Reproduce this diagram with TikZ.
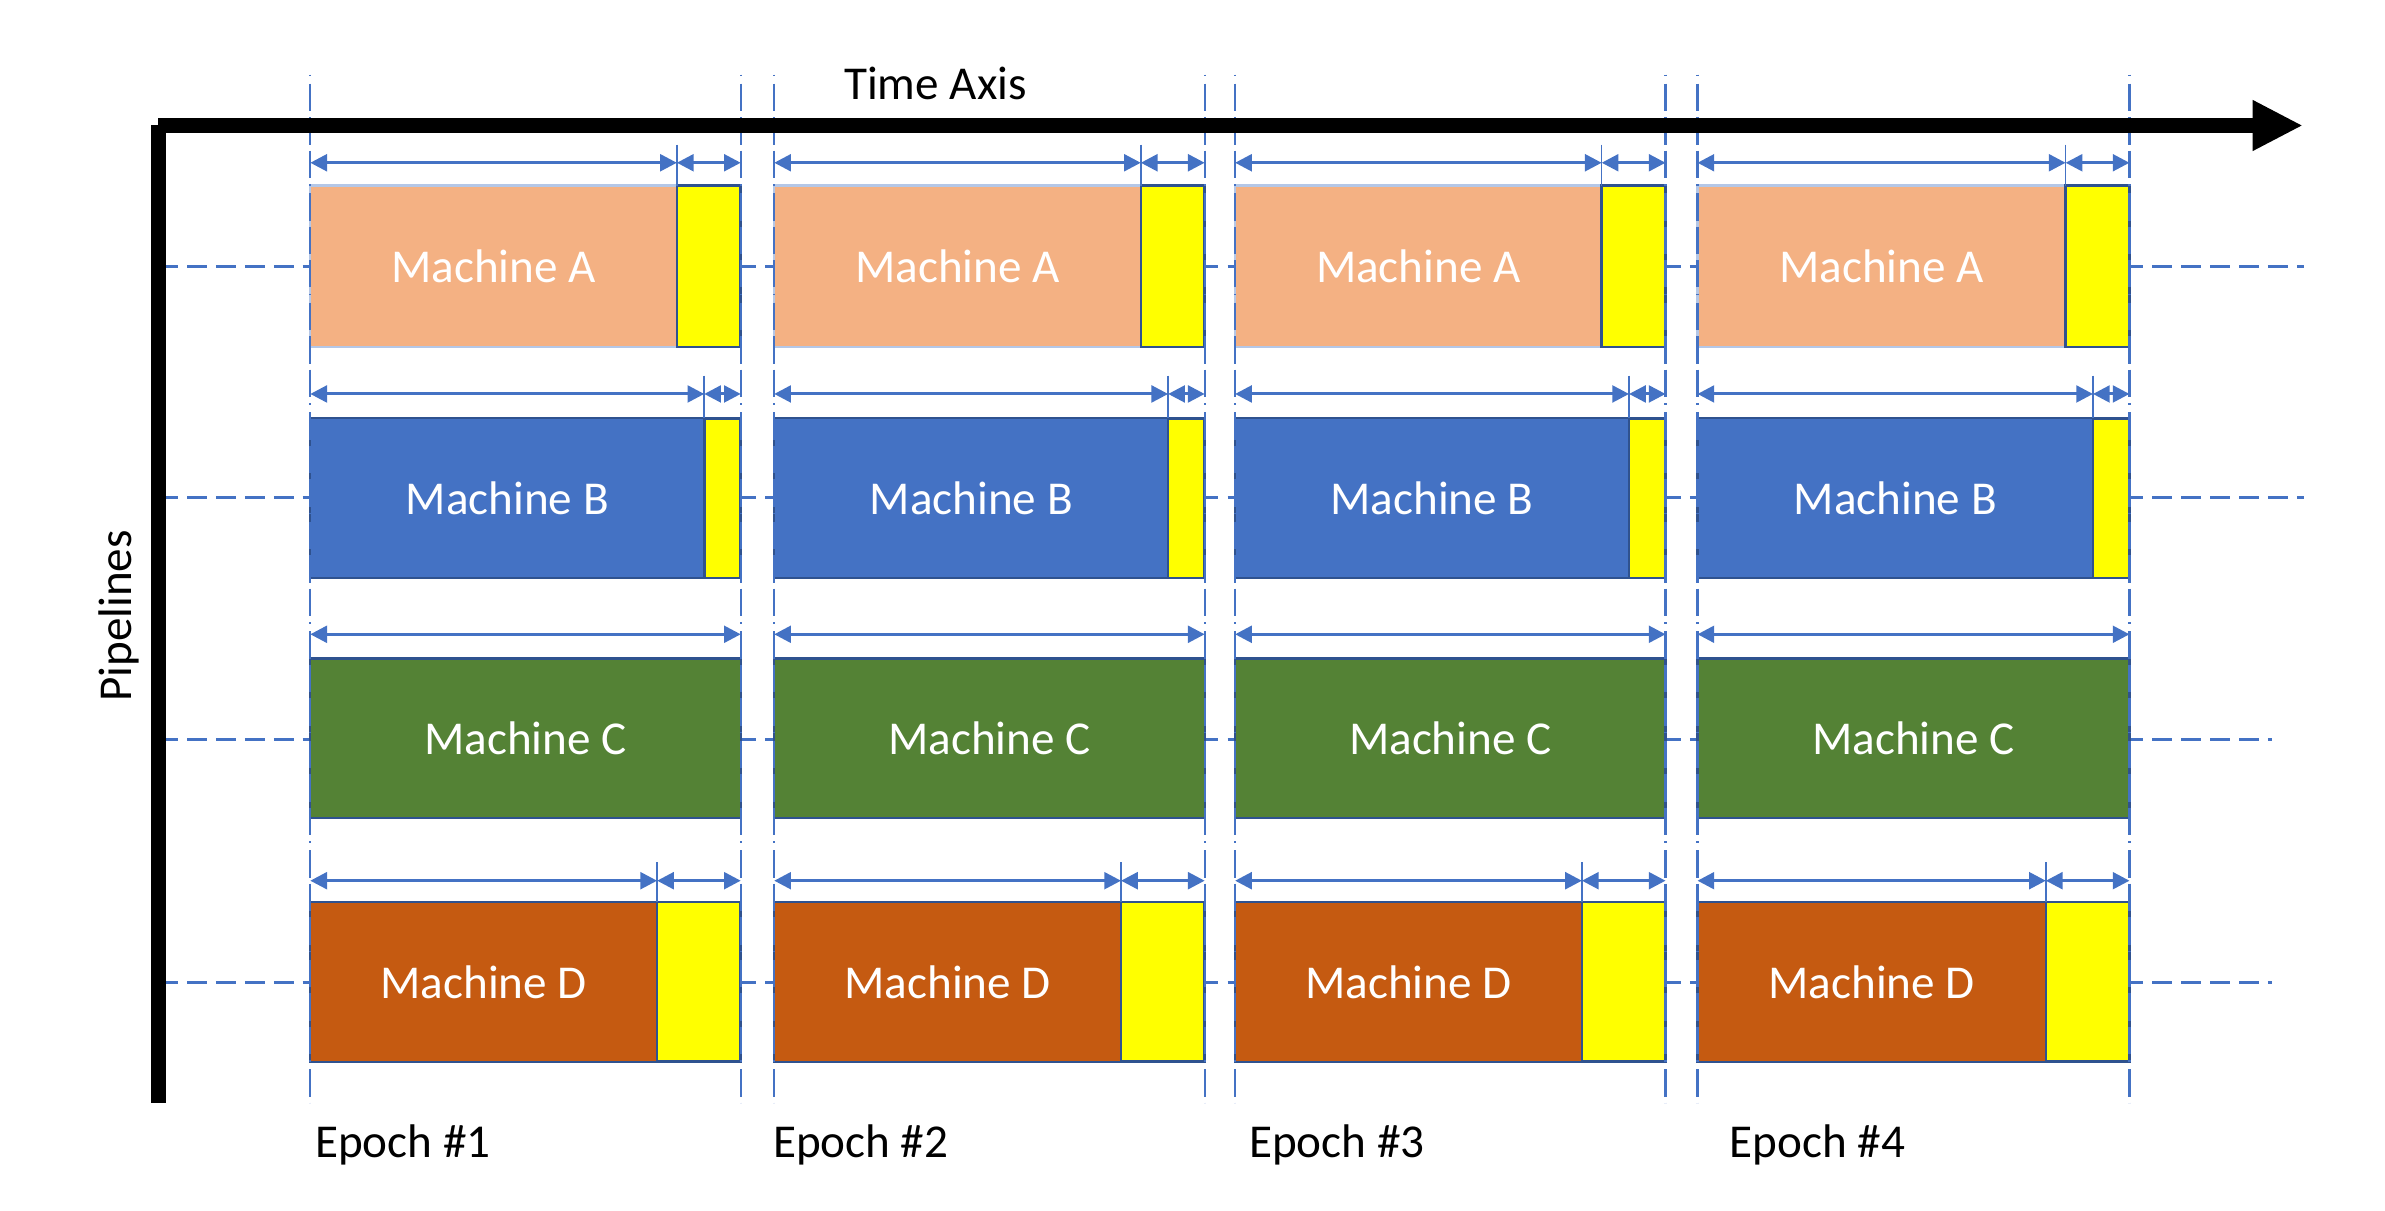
\documentclass[tikz,border=0pt]{standalone}
\usepackage{fontspec}
\setmainfont{Carlito}
\usetikzlibrary{arrows.meta}
\definecolor{lnblue}{HTML}{4472C4}
\definecolor{bdblue}{HTML}{2F528F}
\definecolor{ltblue}{HTML}{B4C7E7}
\definecolor{orA}{HTML}{F4B183}
\definecolor{blB}{HTML}{4472C4}
\definecolor{grC}{HTML}{548235}
\definecolor{orD}{HTML}{C55A11}
\definecolor{yel}{HTML}{FFFF00}
\tikzset{
  mbox/.style={inner sep=0pt,outer sep=0pt,line width=1.5pt,anchor=north west,text=white,font=\fontsize{31}{36}\selectfont},
  ybox/.style={inner sep=0pt,outer sep=0pt,line width=1.7pt,anchor=north west,fill=yel,draw=bdblue},
  dimarrow/.style={draw=lnblue,line width=2pt,{Triangle[length=11pt,width=11pt]}-{Triangle[length=11pt,width=11pt]}},
  tickline/.style={draw=lnblue,line width=1pt},
  hdash/.style={draw=lnblue,line width=1.8pt,dash pattern=on 13pt off 6pt},
  vdash/.style={draw=lnblue,line width=1.5pt,dash pattern=on 1pt off 5pt on 18pt off 4pt on 18pt off 4pt on 18pt off 4pt},
  axisline/.style={draw=black,line width=10pt},
  lbl/.style={inner sep=0pt,font=\fontsize{31}{36}\selectfont,text=black}
}
\begin{document}
\begin{tikzpicture}[x=1pt,y=-1pt]
\useasboundingbox (0,0) rectangle (1568,796);

% horizontal dashed pipeline lines (behind boxes)
\foreach \row/\cy/\xr in {A/175/1515, B/327/1515, C/486/1494, D/646/1494} {
  \coordinate (hl\row) at (104,\cy);
  \coordinate (hr\row) at (\xr,\cy);
  \draw[hdash] (hl\row) -- (hr\row);
}

% boxes and dimension arrows
\foreach \i/\l/\r in {1/204/487, 2/509/792, 3/812/1095, 4/1116/1400} {
  \foreach \row/\top/\bot/\ay/\w/\fc/\dc/\lab in {
      A/122/228/107/42/orA/ltblue/Machine A,
      B/275/380/259/24/blB/bdblue/Machine B,
      C/433/538/417/0/grC/bdblue/Machine C,
      D/593/698/579/55/orD/bdblue/Machine D} {
    \pgfmathsetmacro\s{\r-\w}
    \pgfmathsetmacro\mw{\s-\l}
    \pgfmathsetmacro\mh{\bot-\top}
    \node[mbox,fill=\fc,draw=\dc,minimum width=\mw pt,minimum height=\mh pt] (M\row\i) at (\l,\top) {\lab};
    \coordinate (a\row\i) at (\l,\ay);
    \coordinate (b\row\i) at (\r,\ay);
    \ifnum\w>0
      \node[ybox,minimum width=\w pt,minimum height=\mh pt] (Y\row\i) at (\s,\top) {};
      \coordinate (s\row\i) at (\s,\ay);
      \coordinate (t\row\i) at (\s,{\ay-12});
      \draw[tickline] (t\row\i) -- (Y\row\i.north west);
      \draw[dimarrow] (a\row\i) -- (s\row\i);
      \draw[dimarrow] (s\row\i) -- (b\row\i);
    \else
      \draw[dimarrow] (a\row\i) -- (b\row\i);
    \fi
  }
  % epoch boundaries
  \coordinate (vlt\i) at (\l,49);
  \coordinate (vlb\i) at (\l,725);
  \coordinate (vrt\i) at (\r,49);
  \coordinate (vrb\i) at (\r,725);
  \draw[vdash] (vlt\i) -- (vlb\i);
  \draw[vdash] (vrt\i) -- (vrb\i);
}

% axes
\coordinate (O) at (104,82.5);
\coordinate (X) at (1514,82.5);
\coordinate (Yb) at (104,725);
\coordinate (Yt) at (104,82);
\draw[axisline,-{Triangle[length=33pt,width=31pt]}] (O) -- (X);
\draw[axisline] (Yt) -- (Yb);

% labels
\node[lbl] (timeaxis) at (615,55) {Time Axis};
\node[lbl,rotate=90] (pipelines) at (78,405) {Pipelines};
\node[lbl,anchor=base west] (ep1) at (207,761) {Epoch \#1};
\node[lbl,anchor=base west] (ep2) at (508,761) {Epoch \#2};
\node[lbl,anchor=base west] (ep3) at (821,761) {Epoch \#3};
\node[lbl,anchor=base west] (ep4) at (1137,761) {Epoch \#4};
\end{tikzpicture}
\end{document}
